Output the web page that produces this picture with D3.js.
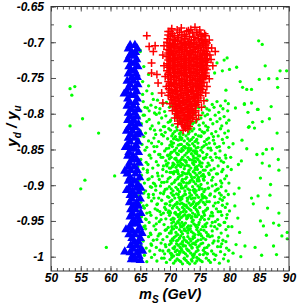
<!DOCTYPE html>
<html>
<head>
<meta charset="utf-8">
<script src="https://cdn.jsdelivr.net/npm/d3@7"></script>
<style>
  body { margin: 0; background: #fff; }
  text { font-family: "Liberation Sans", Arial, sans-serif; font-weight: bold; font-style: italic; }
</style>
</head>
<body>
<script>
// points as flat pairs: m_S in 0.1 GeV, -y_d/y_u in 0.001
const greenPts = [
  532,678, 532,765, 540,762, 535,774, 553,807, 532,817, 580,827, 557,893, 550,905, 607,887, 593,987,
  825,786, 837,785, 848,794, 867,807, 855,811, 842,820, 832,819, 880,827, 821,837, 829,849, 862,850,
  872,849, 856,856, 846,857, 882,864, 820,866, 815,871, 855,869, 867,873, 883,879, 852,890, 869,899,
  816,904, 837,918, 848,915, 868,914, 840,926, 864,932, 883,939, 814,946, 852,950, 874,953, 857,957,
  883,956, 817,966, 862,970, 888,971, 826,985, 843,987, 874,985, 819,1000, 854,998, 879,997, 897,966, 897,975,
  849,698, 855,703, 896,740, 885,740, 860,733, 866,751, 850,752, 880,751, 881,763, 818,755, 822,763,
  829,766, 837,766, 796,722, 791,725, 800,738, 812,735, 779,729, 788,740, 775,743, 794,767, 810,792,
  831,798, 825,787, 847,794, 839,812, 833,818, 870,790,
  806,842, 803,878, 808,912, 804,958, 811,983, 806,995, 802,861, 809,929,
  650,713, 641,729, 656,734, 664,745, 654,755, 664,761, 661,768, 670,772, 654,773, 672,780, 658,791,
  665,796, 676,791, 682,799, 655,802, 650,711, 644,730,
  655,783, 668,788, 679,781, 688,786, 694,784, 762,781, 771,787, 779,783, 785,789, 793,782, 798,786, 703,789, 745,788, 727,785, 758,790,
  651,796, 662,792, 674,799, 683,793, 691,797, 699,791, 712,798, 724,794, 736,797, 748,792, 755,799, 766,795, 774,791, 782,798, 789,793, 797,796, 706,795, 741,799, 762,793,
  648,805, 657,802, 665,808, 677,801, 686,806, 693,803, 701,809, 709,802, 718,807, 726,803, 733,809, 741,801, 752,806, 759,803, 768,808, 776,802, 784,807, 791,804, 799,809, 715,804, 746,808, 763,801, 729,806,
  652,814, 661,811, 670,817, 681,813, 689,818, 697,812, 704,816, 711,819, 719,811, 727,815, 734,818, 742,812, 749,816, 756,813, 764,819, 772,814, 779,811, 787,817, 795,813, 700,811, 723,819, 738,814, 760,817, 744,811, 715,813,
  650,824, 659,827, 667,821, 676,829, 684,823, 692,826, 698,821, 705,828, 712,823, 718,826, 725,821, 731,828, 737,824, 743,829, 750,822, 757,827, 763,823, 770,828, 777,825, 785,821, 792,827, 798,824, 708,825, 722,829, 740,821, 754,825, 733,822, 716,828,
  647,836, 656,832, 664,838, 673,834, 681,839, 689,831, 696,835, 702,839, 709,832, 714,837, 720,834, 727,831, 733,838, 739,833, 745,836, 752,832, 758,839, 765,834, 773,837, 781,831, 788,836, 796,833, 706,835, 724,838, 742,839, 748,831, 730,835, 717,832, 762,836,
  653,843, 661,847, 669,841, 678,846, 686,842, 694,849, 700,844, 706,841, 711,848, 717,843, 723,846, 729,842, 735,849, 741,845, 747,841, 754,847, 761,843, 768,848, 775,842, 783,846, 790,841, 799,847, 704,846, 720,849, 738,842, 726,848, 744,848, 714,844, 757,845, 732,844,
  649,855, 658,851, 666,858, 674,853, 683,857, 691,852, 697,859, 703,854, 708,851, 713,857, 719,853, 725,858, 731,851, 736,856, 742,852, 748,859, 755,854, 762,857, 769,851, 776,856, 784,852, 793,858, 700,857, 716,852, 728,855, 745,856, 739,859, 722,851, 711,855, 752,851,
  651,864, 660,868, 668,862, 677,867, 685,861, 693,866, 699,863, 705,869, 710,862, 716,866, 721,861, 727,868, 733,864, 738,869, 744,862, 750,867, 757,863, 764,869, 771,865, 778,861, 786,866, 794,862, 702,861, 724,865, 730,861, 741,866, 713,868, 747,864, 754,869, 719,864,
  646,874, 655,877, 663,871, 671,876, 680,872, 688,878, 695,873, 701,876, 707,871, 712,879, 718,874, 724,877, 729,872, 735,876, 740,871, 746,878, 753,874, 759,879, 766,872, 774,877, 781,873, 789,878, 797,874, 704,874, 715,872, 732,879, 743,875, 721,871, 749,872, 710,875,
  652,886, 662,882, 670,888, 679,883, 687,887, 694,881, 700,889, 706,884, 711,881, 717,887, 723,883, 728,889, 734,885, 739,881, 745,886, 751,882, 758,888, 765,883, 772,889, 780,884, 787,881, 795,887, 703,882, 720,886, 731,882, 748,889, 714,884, 736,888, 742,883, 756,885,
  648,893, 657,897, 665,891, 674,898, 682,892, 690,896, 697,891, 703,898, 709,893, 715,899, 720,894, 726,891, 731,897, 737,892, 743,898, 749,894, 756,891, 763,897, 770,893, 777,899, 785,894, 792,891, 799,897, 707,896, 723,896, 740,895, 713,891, 734,894, 746,892, 718,898, 752,899,
  650,903, 659,908, 667,902, 676,907, 684,901, 692,906, 699,902, 705,908, 710,903, 716,909, 722,904, 727,901, 733,907, 738,902, 744,908, 750,903, 757,909, 764,904, 771,901, 779,906, 786,902, 794,908, 702,905, 719,901, 730,905, 741,906, 713,906, 747,901, 725,908, 754,905,
  647,915, 656,911, 664,917, 672,913, 681,918, 689,912, 696,916, 702,911, 708,918, 714,913, 719,917, 725,912, 730,919, 736,914, 742,911, 748,917, 754,913, 761,918, 768,912, 775,916, 783,911, 791,917, 798,913, 705,914, 722,915, 739,918, 711,912, 733,911, 745,914, 758,916, 717,919,
  651,924, 661,928, 669,922, 678,927, 686,921, 694,926, 700,923, 706,929, 712,924, 717,921, 723,927, 729,922, 735,928, 740,923, 746,926, 752,921, 759,927, 766,923, 773,929, 781,924, 788,921, 796,926, 703,921, 720,925, 732,925, 743,929, 709,927, 749,924, 726,929, 756,924,
  649,936, 657,932, 666,938, 675,933, 683,937, 691,931, 698,936, 704,932, 709,938, 715,934, 721,931, 727,937, 732,933, 738,939, 744,934, 750,931, 756,937, 763,932, 770,938, 778,933, 785,937, 793,931, 800,936, 701,939, 718,938, 735,935, 747,938, 712,931, 724,934, 741,931, 760,935,
  652,944, 660,948, 668,942, 677,946, 685,941, 693,947, 699,942, 705,946, 711,941, 716,948, 722,943, 728,947, 733,942, 739,949, 745,944, 751,948, 758,942, 765,947, 772,943, 780,948, 787,942, 795,946, 702,948, 719,945, 730,945, 742,941, 714,944, 736,946, 748,941, 754,945, 725,941,
  648,953, 656,958, 665,952, 673,957, 682,951, 690,955, 697,959, 703,953, 708,957, 714,952, 720,958, 726,953, 731,957, 737,951, 743,956, 749,952, 755,958, 762,953, 769,957, 776,951, 784,956, 791,952, 798,958, 706,951, 717,955, 729,959, 740,954, 711,959, 746,959, 723,955, 759,955,
  650,966, 659,961, 667,967, 676,962, 684,968, 692,963, 699,967, 704,961, 710,966, 716,962, 721,968, 727,964, 733,961, 739,967, 745,962, 751,968, 757,963, 764,969, 771,964, 779,961, 786,967, 794,962, 702,964, 713,969, 724,961, 736,965, 748,965, 719,965, 742,969, 730,967, 761,966,
  647,973, 655,978, 664,972, 672,977, 680,971, 688,976, 695,972, 701,978, 707,973, 713,977, 718,971, 724,976, 730,972, 735,978, 741,973, 747,977, 753,971, 760,976, 767,972, 774,978, 782,973, 789,977, 797,971, 704,975, 716,974, 728,979, 738,975, 710,971, 744,979, 721,979, 756,974, 733,975,
  651,984, 660,988, 668,982, 677,987, 685,981, 693,986, 699,983, 705,988, 711,982, 717,987, 722,983, 728,989, 734,984, 740,981, 746,987, 752,982, 758,988, 765,984, 772,981, 780,986, 787,982, 795,988, 702,981, 714,984, 726,985, 737,987, 749,985, 708,986, 731,981, 743,983, 762,987, 719,989,
  649,994, 657,998, 666,992, 674,997, 683,991, 691,996, 697,992, 703,998, 709,993, 715,997, 720,991, 726,996, 732,992, 738,998, 744,993, 750,997, 756,991, 763,996, 770,992, 777,998, 785,993, 792,997, 799,991, 701,995, 712,991, 723,994, 735,995, 747,991, 706,999, 741,996, 729,999, 759,994, 717,994,
  652,1003, 661,1007, 669,1001, 678,1006, 686,1002, 694,1008, 700,1004, 706,1009, 712,1003, 718,1007, 724,1002, 730,1008, 736,1004, 742,1009, 748,1003, 754,1007, 761,1002, 768,1008, 775,1004, 783,1009, 790,1003, 798,1006, 703,1001, 715,1005, 727,1005, 739,1001, 751,1005, 709,1006, 733,1010, 745,1006, 721,1010, 765,1005,
  664,913, 739,852, 702,967, 781,905, 717,834, 688,992, 756,879, 673,846, 745,1001, 729,918, 694,871, 768,943, 711,806, 783,862, 658,957,
  726,884, 701,823, 747,926, 679,935, 762,996, 718,958, 735,811, 690,909, 773,832, 707,947, 751,869, 662,879, 738,982, 714,889, 796,941,
  681,857, 744,838, 723,973, 759,917, 698,848, 771,971, 733,896, 655,929, 719,843, 787,897, 706,914, 748,955, 692,983, 727,866, 764,848,
  676,901, 741,931, 712,997, 784,919, 699,876, 757,939, 731,853, 668,969, 722,937, 766,885, 703,831, 746,894, 685,948, 737,1006, 775,958,
  713,872, 728,944, 691,818, 752,976, 708,863, 779,847, 741,909, 663,892, 734,961, 721,882, 758,826, 697,938, 743,867, 716,993, 792,952,
  674,823, 749,906, 705,977, 731,848, 767,914, 720,952, 688,861, 736,919, 756,997, 700,928, 781,978, 714,857, 743,944, 669,984, 726,902,
  760,861, 695,895, 739,972, 711,836, 776,925, 724,963, 684,911, 753,887, 707,989, 732,873, 790,868, 717,926, 745,853, 678,976, 763,933,
  702,854, 730,991, 754,915, 689,939, 742,878, 719,904, 771,952, 659,947, 725,846, 748,969, 698,917, 736,836, 713,951, 786,914, 705,872,
  738,926, 680,887, 762,874, 727,978, 694,962, 747,847, 718,869, 773,996, 708,939, 733,916, 655,991, 756,862, 722,985, 686,829, 744,958,
  712,926, 765,904, 700,882, 735,957, 690,1002, 752,831, 726,913, 781,937, 716,974, 741,889, 669,903, 758,948, 703,842, 729,931, 794,979,
  682,968, 737,865, 710,954, 769,879, 721,892, 746,936, 696,858, 755,981, 715,917, 778,884, 731,942, 665,858, 740,998, 707,881, 762,923,
  725,873, 692,926, 750,859, 718,982, 739,907, 677,954, 757,893, 703,996, 732,826, 788,928, 714,941, 745,874, 686,896, 723,956, 768,861,
  700,937, 742,918, 711,865, 760,958, 728,897, 673,918, 753,944, 719,836, 737,988, 695,905, 776,908, 706,961, 749,883, 661,939, 734,851,
  716,898, 771,939, 689,873, 744,926, 724,1003, 707,852, 763,971, 731,963, 698,991, 755,918, 713,881, 782,955, 740,862, 679,926, 727,928,
  748,892, 703,958, 766,841, 720,919, 737,944, 693,934, 759,906, 711,978, 742,855, 672,897, 729,884, 785,986, 716,941, 752,962, 697,869
];

const bluePts = [
  633,703, 641,703, 630,708, 645,708, 636,713, 642,713, 632,718, 640,718, 629,723, 644,723,
  635,728, 641,728, 631,733, 646,733, 634,738, 640,738, 630,743, 643,743, 636,748, 645,748,
  628,753, 639,753, 633,758, 646,758, 630,763, 641,763, 627,768, 644,768, 634,773, 640,773,
  629,778, 645,778, 632,783, 642,783, 628,788, 638,788, 635,793, 646,793, 630,798, 641,798,
  633,803, 644,803, 629,808, 639,808, 636,813, 647,813, 631,818, 642,818, 627,823, 637,823,
  634,828, 645,828, 630,833, 640,833, 633,838, 646,838, 628,843, 643,843, 635,848, 641,848,
  631,853, 647,853, 629,858, 638,858, 636,863, 644,863, 632,868, 648,868, 630,873, 640,873,
  634,878, 645,878, 628,883, 642,883, 633,888, 649,888, 630,893, 640,893, 635,898, 646,898,
  631,903, 643,903, 637,908, 648,908, 633,913, 641,913, 636,918, 650,918, 632,923, 644,923,
  638,928, 647,928, 634,933, 642,933, 637,938, 651,938, 633,943, 645,943, 639,948, 648,948,
  635,953, 643,953, 632,958, 649,958, 637,963, 646,963, 631,968, 641,968, 636,973, 650,973,
  640,978, 647,978, 634,983, 644,983, 638,988, 651,988, 633,993, 645,993, 637,998, 648,998,
  635,1003, 642,1003, 624,992,
  623,771, 625,846, 624,879, 627,906, 626,961, 653,966, 654,991, 650,1004, 649,826, 651,903
];

const redPts = [
  700,685, 716,686, 731,684, 745,686, 758,688,
  697,690, 707,691, 720,690, 733,692, 747,690, 760,691,
  696,695, 705,696, 714,694, 725,695, 736,697, 748,695, 757,696,
  695,700, 704,701, 713,699, 722,700, 731,702, 740,700, 750,701, 759,699,
  697,705, 706,704, 715,706, 724,705, 733,704, 742,706, 752,705, 760,704,
  695,710, 703,711, 712,709, 721,710, 730,712, 739,710, 748,709, 757,711,
  697,715, 706,716, 715,714, 724,715, 733,716, 742,714, 751,715, 759,716,
  695,720, 704,719, 713,721, 722,720, 731,719, 740,721, 749,720, 758,719,
  697,725, 706,726, 715,724, 724,725, 733,726, 742,724, 751,725, 760,726,
  695,730, 704,729, 713,731, 722,730, 731,729, 740,731, 749,730, 757,729,
  697,735, 706,736, 715,734, 724,735, 733,736, 742,734, 751,735, 759,736,
  695,740, 704,739, 713,741, 722,740, 731,739, 740,741, 749,740, 757,739,
  697,745, 706,746, 715,744, 724,745, 733,746, 742,744, 750,745, 758,746,
  698,750, 707,749, 716,751, 725,750, 734,749, 743,751, 751,750, 756,749,
  697,755, 706,756, 715,754, 724,755, 733,756, 742,754, 750,755, 757,756,
  699,760, 708,759, 717,761, 726,760, 735,759, 744,761, 752,760,
  698,765, 707,766, 716,764, 725,765, 734,766, 743,764, 751,765, 755,766,
  700,770, 709,769, 718,771, 727,770, 736,769, 745,771, 752,770,
  701,775, 710,776, 719,774, 728,775, 737,776, 746,774, 751,775,
  703,780, 712,779, 721,781, 730,780, 739,779, 747,781,
  705,785, 714,786, 723,784, 732,785, 741,786, 747,784,
  707,790, 716,789, 725,791, 734,790, 743,789,
  709,795, 718,796, 727,794, 736,795, 743,796,
  711,800, 720,799, 729,801, 738,800,
  713,805, 722,806, 731,804, 738,805,
  716,810, 725,809, 734,811,
  720,815, 729,816,
  726,820,
  704,688, 724,689, 738,687, 752,689,
  701,692, 713,693, 727,692, 740,693, 754,692,
  700,697, 709,698, 719,697, 730,699, 742,697, 753,698,
  699,702, 708,703, 717,702, 726,703, 735,702, 745,703, 755,702, 762,701,
  701,707, 710,708, 719,707, 728,708, 737,707, 747,708, 756,707, 764,708,
  699,712, 707,713, 716,712, 725,713, 734,712, 743,713, 752,712, 761,713,
  701,717, 710,718, 719,717, 728,718, 737,717, 746,718, 755,717, 763,718,
  699,722, 708,723, 717,722, 726,723, 735,722, 744,723, 753,722, 761,723,
  701,727, 710,728, 719,727, 728,728, 737,727, 746,728, 755,727, 763,728,
  699,732, 708,733, 717,732, 726,733, 735,732, 744,733, 753,732, 761,733,
  701,737, 710,738, 719,737, 728,738, 737,737, 746,738, 755,737, 762,738,
  699,742, 708,743, 717,742, 726,743, 735,742, 744,743, 753,742, 760,743,
  701,747, 710,748, 719,747, 728,748, 737,747, 746,748, 754,747, 760,748,
  702,752, 711,753, 720,752, 729,753, 738,752, 747,753, 754,752,
  701,757, 710,758, 719,757, 728,758, 737,757, 746,758, 753,757,
  703,762, 712,763, 721,762, 730,763, 739,762, 748,763, 754,762,
  702,767, 711,768, 720,767, 729,768, 738,767, 747,768,
  704,772, 713,773, 722,772, 731,773, 740,772, 748,773,
  705,777, 714,778, 723,777, 732,778, 741,777, 748,778,
  707,782, 716,783, 725,782, 734,783, 743,782,
  709,787, 718,788, 727,787, 736,788, 744,787,
  711,792, 720,793, 729,792, 738,793,
  713,797, 722,798, 731,797, 740,798,
  715,802, 724,803, 733,802,
  717,807, 727,808, 735,807,
  721,812, 730,813,
  724,817, 732,818,
  703,681, 719,680, 735,682, 750,683, 712,683, 742,679,
  766,697, 770,708, 769,724, 772,733, 766,751, 762,762, 760,771, 757,782, 753,791, 748,802, 744,808,
  690,705, 688,718, 690,733, 692,748, 694,762, 697,774, 700,786, 704,796, 708,806, 713,814,
  722,823, 730,821,
  661,691, 665,706, 675,705, 672,713, 669,729, 669,743, 678,745, 680,757, 686,771, 688,785,
  697,685, 728,685, 776,713, 767,718
];

const xTicks = [50, 55, 60, 65, 70, 75, 80, 85, 90];
const xMinorTicks = d3.range(50, 91, 1);
const yTicks = [-1, -0.95, -0.9, -0.85, -0.8, -0.75, -0.7, -0.65];
const yTickLabels = ["-1", "-0.95", "-0.9", "-0.85", "-0.8", "-0.75", "-0.7", "-0.65"];
const yMinorTicks = [-1, -0.975, -0.95, -0.925, -0.9, -0.875, -0.85, -0.825, -0.8, -0.775, -0.75, -0.725, -0.7, -0.675, -0.65];

const toPoints = arr => d3.range(0, arr.length, 2).map(i => ({ x: arr[i] / 10, y: -arr[i + 1] / 1000 }));

const w = 298;
const h = 305;
const plotLeft = 51, plotRight = 289, plotTop = 6.5, plotBottom = 271;

const xScale = d3.scaleLinear().domain([50, 90]).range([plotLeft, plotRight]);
const yScale = d3.scaleLinear().domain([-1.02, -0.65]).range([plotBottom, plotTop]);

const svg = d3.select("body").append("svg")
  .attr("width", w)
  .attr("height", h);

const plot = svg.append("g");

plot.selectAll("circle.green")
  .data(toPoints(greenPts))
  .enter()
  .append("circle")
  .attr("class", "green")
  .attr("cx", d => xScale(d.x))
  .attr("cy", d => yScale(d.y))
  .attr("r", 1.65)
  .attr("fill", "#00ff00");

const tri = d3.symbol().type(d3.symbolTriangle).size(38);
plot.selectAll("path.blue")
  .data(toPoints(bluePts))
  .enter()
  .append("path")
  .attr("class", "blue")
  .attr("d", tri)
  .attr("transform", d => `translate(${xScale(d.x)},${yScale(d.y) + 0.8})`)
  .attr("fill", "#0000ff");

plot.selectAll("path.red")
  .data(toPoints(redPts))
  .enter()
  .append("path")
  .attr("class", "red")
  .attr("d", "M-4,0H4M0,-4V4")
  .attr("transform", d => `translate(${xScale(d.x)},${yScale(d.y)})`)
  .attr("stroke", "#ff0000")
  .attr("stroke-width", 1.5)
  .attr("fill", "none");

// axes: ticks point inward on all four sides
const tickColor = "#555";
const styleAxis = g => {
  g.select(".domain").remove();
  g.selectAll("line").attr("stroke", tickColor);
  g.selectAll("text").attr("fill", "#000").attr("font-size", 12);
};

svg.append("g").attr("transform", `translate(0,${plotBottom})`)
  .call(d3.axisBottom(xScale).tickValues(xMinorTicks).tickSize(-3).tickFormat("")).call(styleAxis);
svg.append("g").attr("transform", `translate(0,${plotBottom})`)
  .call(d3.axisBottom(xScale).tickValues(xTicks).tickSize(-5).tickPadding(2.5).tickFormat(d => d)).call(styleAxis);
svg.append("g").attr("transform", `translate(0,${plotTop})`)
  .call(d3.axisTop(xScale).tickValues(xMinorTicks).tickSize(-3).tickFormat("")).call(styleAxis);
svg.append("g").attr("transform", `translate(0,${plotTop})`)
  .call(d3.axisTop(xScale).tickValues(xTicks).tickSize(-5).tickFormat("")).call(styleAxis);

svg.append("g").attr("transform", `translate(${plotLeft},0)`)
  .call(d3.axisLeft(yScale).tickValues(yMinorTicks).tickSize(-3).tickFormat("")).call(styleAxis);
svg.append("g").attr("transform", `translate(${plotLeft},0)`)
  .call(d3.axisLeft(yScale).tickValues(yTicks).tickSize(-5).tickPadding(7).tickFormat((d, i) => yTickLabels[i])).call(styleAxis);
svg.append("g").attr("transform", `translate(${plotRight},0)`)
  .call(d3.axisRight(yScale).tickValues(yMinorTicks).tickSize(-3).tickFormat("")).call(styleAxis);
svg.append("g").attr("transform", `translate(${plotRight},0)`)
  .call(d3.axisRight(yScale).tickValues(yTicks).tickSize(-5).tickFormat("")).call(styleAxis);

svg.append("rect")
  .attr("x", plotLeft)
  .attr("y", plotTop)
  .attr("width", plotRight - plotLeft)
  .attr("height", plotBottom - plotTop)
  .attr("fill", "none")
  .attr("stroke", "#333")
  .attr("stroke-width", 1);

// axis titles
const xTitle = svg.append("text")
  .attr("x", 139)
  .attr("y", 299)
  .attr("font-size", 14.5);
xTitle.append("tspan").text("m");
xTitle.append("tspan").attr("font-size", 10).attr("dy", 3.5).text("S");
xTitle.append("tspan").attr("dy", -3.5).text(" (GeV)");

const yTitle = svg.append("text")
  .attr("transform", "translate(17,126) rotate(-90)")
  .attr("text-anchor", "middle")
  .attr("font-size", 15);
yTitle.append("tspan").text("y");
yTitle.append("tspan").attr("font-size", 10).attr("dy", 3.5).text("d");
yTitle.append("tspan").attr("dy", -3.5).text(" / y");
yTitle.append("tspan").attr("font-size", 10).attr("dy", 3.5).text("u");
</script>
</body>
</html>
